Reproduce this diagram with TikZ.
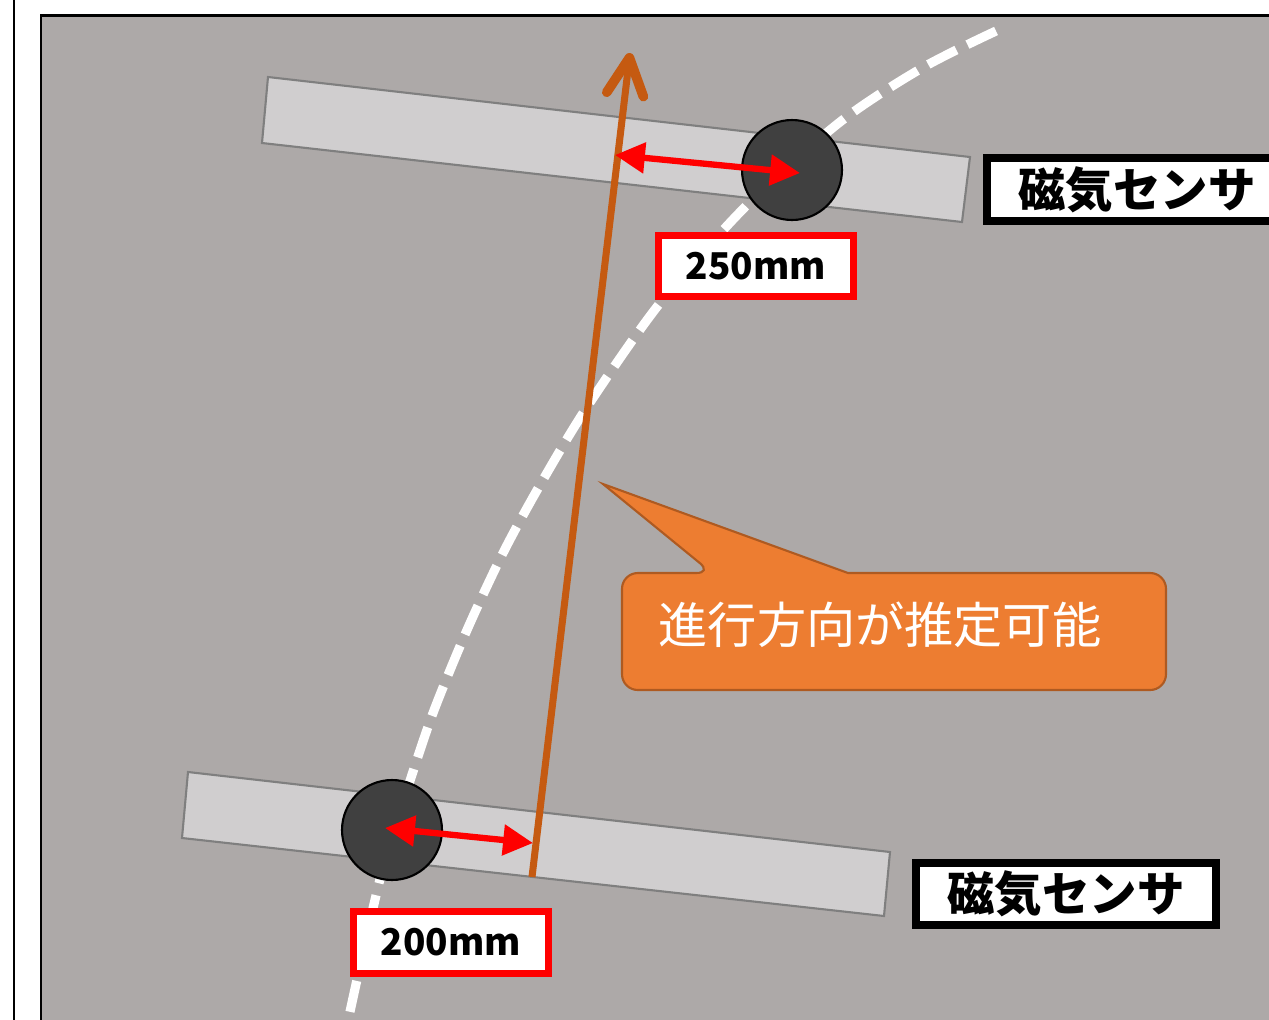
\documentclass[tikz,border=0pt]{standalone}
\usepackage{fontspec}
\newfontfamily\jp{Noto Sans CJK JP}
\usetikzlibrary{arrows.meta}
\definecolor{bggray}{HTML}{ADA9A8}
\definecolor{barfill}{HTML}{D0CECF}
\definecolor{barline}{HTML}{7F7F7F}
\definecolor{dotgray}{HTML}{404040}
\definecolor{dirorange}{HTML}{C55A11}
\definecolor{callfill}{HTML}{ED7D31}
\definecolor{callline}{HTML}{AE5A21}
\begin{document}
\begin{tikzpicture}[x=0.02cm,y=-0.02cm,
  barshape/.style={fill=barfill,draw=barline,line width=1.2pt,line join=miter},
  trackline/.style={draw=white,line width=5.2pt,dash pattern=on 18pt off 7pt},
  dirarrow/.style={draw=dirorange,line width=4pt,-{Straight Barb[length=21pt,width=21pt,line width=5.5pt,line cap=round,line join=round]}},
  sensor/.style={circle,fill=dotgray,draw=black,line width=1.2pt,minimum size=2cm,inner sep=0pt},
  distarrow/.style={draw=red,line width=3.6pt,{Triangle[length=17pt,width=17pt]}-{Triangle[length=17pt,width=17pt]}},
  redlabel/.style={draw=red,line width=4pt,fill=white,minimum width=3.9cm,minimum height=1.22cm,inner sep=0pt,font=\jp\bfseries\fontsize{21pt}{21pt}\selectfont},
  blacklabel/.style={draw=black,line width=4.5pt,fill=white,minimum width=6cm,minimum height=1.25cm,inner sep=0pt,font=\jp\bfseries\fontsize{27pt}{27pt}\selectfont},
  callout/.style={fill=callfill,draw=callline,line width=1.2pt},
  calltext/.style={text=white,font=\jp\fontsize{28pt}{28pt}\selectfont,inner sep=0pt}
]
\useasboundingbox (0,0) rectangle (1269,1019);
\clip (0,0) rectangle (1269,1019);
\fill[white] (0,0) rectangle (1269,1019);
% outer frame lines
\draw[line width=1.4pt] (14,-5) -- (14,1030);
\draw[fill=bggray,line width=1.7pt] (41,15) rectangle (1320,1060);
% sensor bars
\draw[barshape] (268,77) -- (970,157) -- (962,222) -- (262,143) -- cycle;
\draw[barshape] (188,772) -- (890,852) -- (884,916) -- (182,838) -- cycle;
% dashed track
\draw[trackline] plot[smooth] coordinates {(996,31) (922,68) (840,122) (747,205) (660,303) (587,407) (540,485) (503,553) (467,630) (433,713) (407,790) (385,860) (368,930) (346,1030)};
% direction arrow
\coordinate (ob) at (532,877);
\coordinate (ot) at (630,53);
\draw[dirarrow] (ob) -- (ot);
% callout
\draw[callout] (1166,631) [rounded corners=9pt] -- (1166,690) -- (622,690) -- (622,573) -- (712,573) [sharp corners] -- (603,484) -- (848,573) [rounded corners=9pt] -- (1166,573) -- cycle;
\node[calltext] (ct) at (880,625) {進行方向が推定可能};
% sensors
\node[sensor] (s1) at (792,170) {};
\node[sensor] (s2) at (392,830) {};
% distance arrows
\coordinate (p1) at (615,155);
\coordinate (q1) at (800,173);
\draw[distarrow] (p1) -- (q1);
\coordinate (p2) at (385,828);
\coordinate (q2) at (533,843);
\draw[distarrow] (p2) -- (q2);
% labels
\node[redlabel] (l1) at (756,266) {250mm};
\node[redlabel,minimum height=1.24cm] (l2) at (451,942.5) {200mm};
\node[blacklabel] (b1) at (1137,189.5) {磁気センサ};
\node[blacklabel] (b2) at (1066,894) {磁気センサ};
\end{tikzpicture}
\end{document}
